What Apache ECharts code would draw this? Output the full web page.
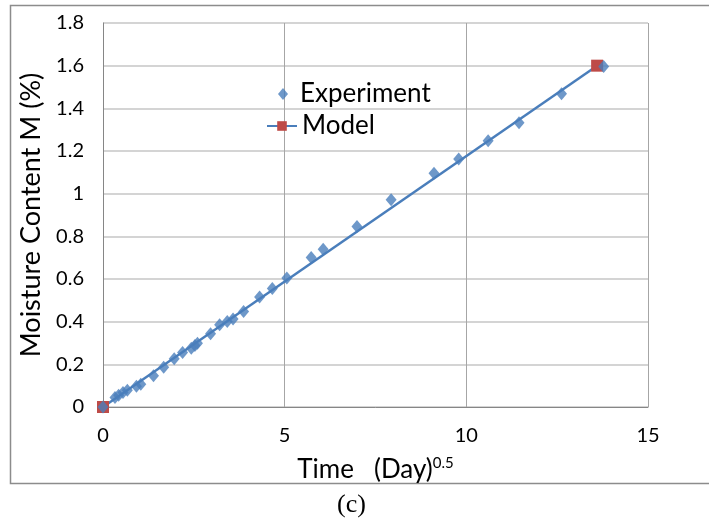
<!DOCTYPE html>
<html>
<head>
<meta charset="utf-8">
<script src="https://cdn.jsdelivr.net/npm/echarts@6/dist/echarts.min.js"></script>
<style>
  html, body { margin: 0; padding: 0; background: #fff; }
  #chart { width: 709px; height: 527px; }
</style>
</head>
<body>
<div id="chart"></div>
<script>
// Measured moisture content vs square root of time
const expTime = [0, 0.33, 0.43, 0.55, 0.67, 0.92, 1.04, 1.39, 1.67, 1.96, 2.19, 2.43, 2.53, 2.60,
  2.96, 3.21, 3.42, 3.58, 3.87, 4.31, 4.66, 5.06, 5.73, 6.06, 6.99, 7.93, 9.11, 9.79,
  10.60, 11.45, 12.62, 13.78];
const expMoisture = [0, 0.044, 0.055, 0.068, 0.079, 0.097, 0.107, 0.146, 0.186, 0.226, 0.255, 0.275, 0.288, 0.299,
  0.343, 0.385, 0.401, 0.413, 0.448, 0.516, 0.555, 0.605, 0.701, 0.739, 0.846, 0.972, 1.096, 1.163,
  1.248, 1.333, 1.468, 1.596];

// Model prediction endpoints
const modelTime = [0, 13.6];
const modelMoisture = [0, 1.6];

const xTicks = [0, 5, 10, 15];
const yTicks = [0, 0.2, 0.4, 0.6, 0.8, 1, 1.2, 1.4, 1.6, 1.8];

const FONT = 'Lato, "Open Sans", sans-serif';
const legendText = { fontFamily: FONT, fontSize: 26, color: '#000' };

const chart = echarts.init(document.getElementById('chart'));
chart.setOption({
  animation: false,
  backgroundColor: '#fff',
  grid: { left: 103, right: 61, top: 23, bottom: 120 },
  legend: [
    {
      orient: 'vertical',
      left: 273,
      top: 76,
      itemWidth: 10,
      itemHeight: 12,
      textStyle: Object.assign({ padding: [0, 0, 0, 7] }, legendText),
      data: ['Experiment']
    },
    {
      orient: 'vertical',
      left: 261,
      top: 108,
      itemWidth: 30,
      itemHeight: 12,
      textStyle: legendText,
      data: ['Model']
    }
  ],
  xAxis: {
    type: 'value',
    min: xTicks[0],
    max: xTicks[xTicks.length - 1],
    interval: 5,
    axisLine: { show: true, lineStyle: { color: '#868686', width: 1 } },
    axisTick: { show: false },
    splitLine: { show: true, lineStyle: { color: '#A6A6A6', width: 1 } },
    axisLabel: { fontFamily: FONT, fontSize: 20, color: '#000', margin: 19 },
    name: '{t|Time   (Day)}{s|0.5}',
    nameLocation: 'middle',
    nameGap: 49,
    nameTextStyle: {
      rich: {
        t: { fontFamily: FONT, fontSize: 26, color: '#000', verticalAlign: 'bottom' },
        s: { fontFamily: FONT, fontSize: 15, color: '#000', verticalAlign: 'top', padding: [0, 0, 12, 0] }
      }
    }
  },
  yAxis: {
    type: 'value',
    min: yTicks[0],
    max: yTicks[yTicks.length - 1],
    interval: 0.2,
    axisLine: { show: true, lineStyle: { color: '#868686', width: 1 } },
    axisTick: { show: false },
    splitLine: { show: true, lineStyle: { color: '#D4D4D4', width: 2 } },
    axisLabel: { fontFamily: FONT, fontSize: 20, color: '#000', margin: 19 },
    name: 'Moisture Content M (%)',
    nameLocation: 'middle',
    nameGap: 54,
    nameTextStyle: { fontFamily: FONT, fontSize: 27, color: '#000' }
  },
  series: [
    {
      name: 'Model',
      type: 'line',
      data: modelTime.map((t, i) => [t, modelMoisture[i]]),
      symbol: 'rect',
      symbolSize: 12,
      lineStyle: { color: '#4A7EBB', width: 2.5 },
      itemStyle: { color: '#BE4B48' },
      z: 2
    },
    {
      name: 'Experiment',
      type: 'scatter',
      data: expTime.map((t, i) => [t, expMoisture[i]]),
      symbol: 'diamond',
      symbolSize: [11, 13],
      itemStyle: { color: '#4A7EBB' },
      z: 3
    }
  ],
  graphic: [
    {
      type: 'rect',
      shape: { x: 10.5, y: 5.5, width: 720, height: 478 },
      style: { fill: 'none', stroke: '#8C8C8C', lineWidth: 1.5 },
      silent: true
    },
    {
      type: 'text',
      left: 337,
      top: 492,
      style: { text: '(c)', font: '26px "Liberation Serif", "Times New Roman", serif', fill: '#000' }
    }
  ]
});
</script>
</body>
</html>
